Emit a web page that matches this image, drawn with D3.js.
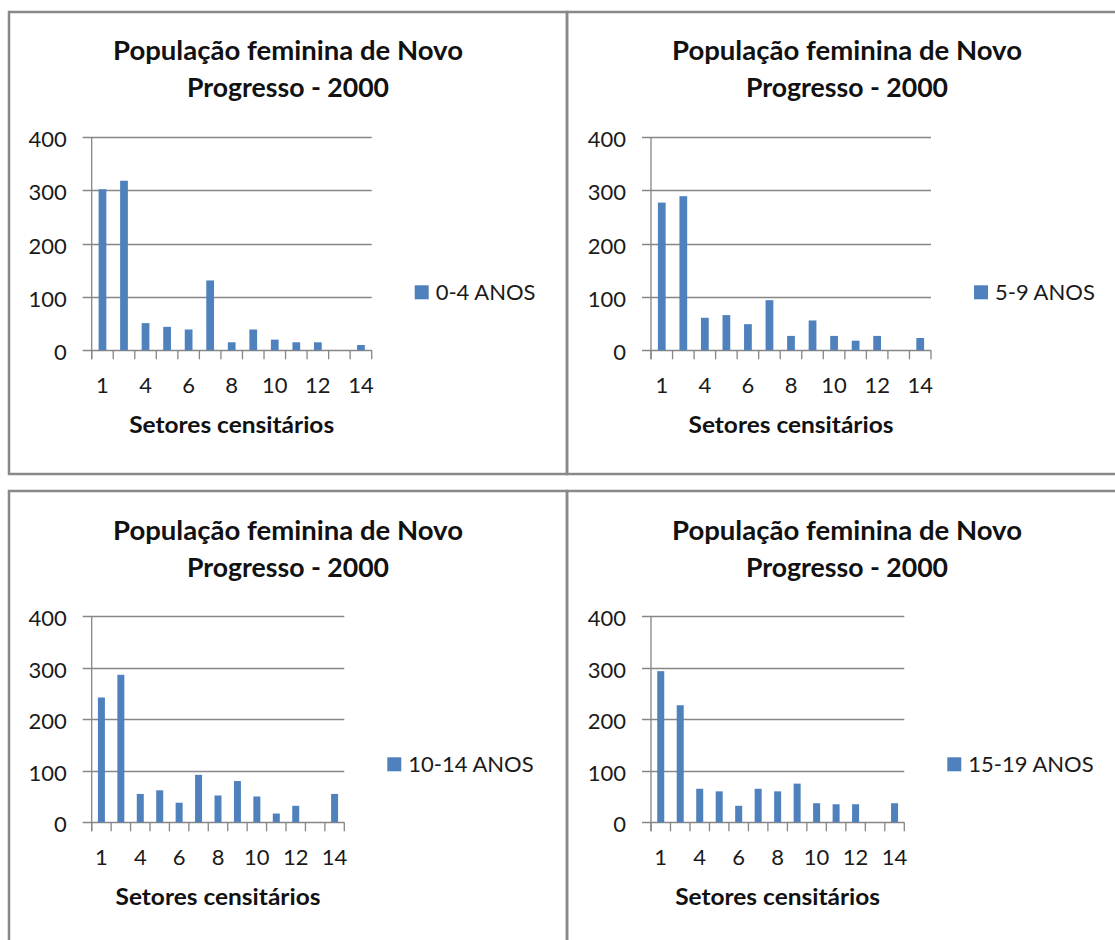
<!DOCTYPE html>
<html>
<head>
<meta charset="utf-8">
<script src="https://cdn.jsdelivr.net/npm/d3@7/dist/d3.min.js"></script>
<style>
  html, body { margin: 0; padding: 0; background: #fff; }
  svg { display: block; }
</style>
</head>
<body>
<svg id="chart" width="1115" height="940"></svg>
<script>
// ---- DATA ----
const categories = ["1", "2", "4", "5", "6", "7", "8", "9", "10", "11", "12", "13", "14"];
const yTicks = [0, 100, 200, 300, 400];
const titleLines = ["População feminina de Novo", "Progresso - 2000"];
const xAxisTitle = "Setores censitários";
const seriesNames = ["0-4 ANOS", "5-9 ANOS", "10-14 ANOS", "15-19 ANOS"];
const values0to4 = [302, 318, 51, 44, 39, 131, 15, 39, 20, 15, 15, 0, 10];
const values5to9 = [277, 289, 61, 66, 49, 94, 27, 56, 27, 18, 27, 0, 23];
const values10to14 = [242, 286, 55, 62, 38, 92, 52, 80, 50, 17, 32, 0, 55];
const values15to19 = [293, 227, 65, 60, 32, 65, 60, 75, 37, 35, 35, 0, 37];

// ---- LAYOUT ----
const svg = d3.select("#chart");
svg.append("rect").attr("width", 1115).attr("height", 940).attr("fill", "#fff");

const BORDER = "#898989";
const GRID = "#868686";
const BAR = "#4F81BD";
const FONT = "Lato, 'Open Sans', sans-serif";
const titleWidths = [350, 202];

const panels = [
  { values: values0to4, name: seriesNames[0], box: [9, 12, 558, 462], left: 91.7, right: 371.7, y0: 350.3, yTop: 137, titleX: 288, titleY: 60 },
  { values: values5to9, name: seriesNames[1], box: [567, 12, 600, 462], left: 651, right: 931, y0: 350.3, yTop: 137, titleX: 847, titleY: 60 },
  { values: values10to14, name: seriesNames[2], box: [9, 491, 558, 500], left: 91.7, right: 344.3, y0: 822.3, yTop: 616, titleX: 288, titleY: 540 },
  { values: values15to19, name: seriesNames[3], box: [567, 491, 600, 500], left: 651, right: 904.3, y0: 822.3, yTop: 616, titleX: 847, titleY: 540 }
];

panels.forEach(p => {
  const g = svg.append("g");
  // border
  g.append("rect")
    .attr("x", p.box[0]).attr("y", p.box[1])
    .attr("width", p.box[2]).attr("height", p.box[3])
    .attr("fill", "none").attr("stroke", BORDER).attr("stroke-width", 2.5);

  // title
  titleLines.forEach((line, i) => {
    g.append("text")
      .attr("x", p.titleX).attr("y", p.titleY + i * 37)
      .attr("text-anchor", "middle")
      .attr("font-family", FONT).attr("font-weight", "bold")
      .attr("font-size", 26).attr("fill", "#111")
      .attr("textLength", titleWidths[i]).attr("lengthAdjust", "spacingAndGlyphs")
      .text(line);
  });

  const x = d3.scaleBand().domain(categories).range([p.left, p.right]).padding(0);
  const y = d3.scaleLinear().domain([0, 400]).range([p.y0, p.yTop]);
  const bw = x.bandwidth();
  const barW = bw * 0.36;

  // gridlines
  g.append("g").selectAll("line").data(yTicks).join("line")
    .attr("x1", p.left - 9).attr("x2", p.right)
    .attr("y1", d => Math.round(y(d)) + 0.5).attr("y2", d => Math.round(y(d)) + 0.5)
    .attr("stroke", GRID).attr("stroke-width", 1.3);

  // y axis line
  g.append("line")
    .attr("x1", p.left).attr("x2", p.left)
    .attr("y1", y(400)).attr("y2", p.y0 + 9)
    .attr("stroke", GRID).attr("stroke-width", 1.3);

  // x tick marks at band boundaries
  const bounds = categories.map(c => x(c)).concat([p.right]);
  g.append("g").selectAll("line").data(bounds).join("line")
    .attr("x1", d => d).attr("x2", d => d)
    .attr("y1", p.y0).attr("y2", p.y0 + 9)
    .attr("stroke", GRID).attr("stroke-width", 1.3);

  // bars
  g.append("g").selectAll("rect").data(p.values.map((v, i) => ({ c: categories[i], v })))
    .join("rect")
    .attr("x", d => x(d.c) + (bw - barW) / 2)
    .attr("width", barW)
    .attr("y", d => y(d.v))
    .attr("height", d => p.y0 - y(d.v))
    .attr("fill", BAR);

  // y axis labels
  const yAxis = d3.axisLeft(y).tickValues(yTicks).tickSize(0).tickFormat(d3.format("d"));
  const ya = g.append("g").attr("transform", `translate(${p.left},0)`).call(yAxis);
  ya.select(".domain").remove();
  ya.selectAll("text")
    .attr("x", -25).attr("dy", "0.43em")
    .attr("font-family", FONT).attr("font-size", 22).attr("fill", "#1a1a1a");

  // x axis labels (every other category)
  const xAxis = d3.axisBottom(x).tickSize(0).tickFormat((d, i) => i % 2 === 0 ? d : "");
  const xa = g.append("g").attr("transform", `translate(0,${p.y0})`).call(xAxis);
  xa.select(".domain").remove();
  xa.selectAll("text")
    .attr("y", 43).attr("dy", 0)
    .attr("font-family", FONT).attr("font-size", 22).attr("fill", "#1a1a1a");

  // axis title
  g.append("text")
    .attr("x", (p.left + p.right) / 2).attr("y", p.y0 + 83)
    .attr("text-anchor", "middle")
    .attr("font-family", FONT).attr("font-weight", "bold")
    .attr("font-size", 23).attr("fill", "#111")
    .attr("textLength", 205).attr("lengthAdjust", "spacingAndGlyphs")
    .text(xAxisTitle);

  // legend
  const lx = p.right + 43, ly = p.y0 - 65;
  g.append("rect").attr("x", lx).attr("y", ly).attr("width", 14).attr("height", 14).attr("fill", BAR);
  g.append("text")
    .attr("x", lx + 21).attr("y", ly + 15)
    .attr("font-family", FONT).attr("font-size", 22).attr("fill", "#1a1a1a")
    .text(p.name);
});
</script>
</body>
</html>
